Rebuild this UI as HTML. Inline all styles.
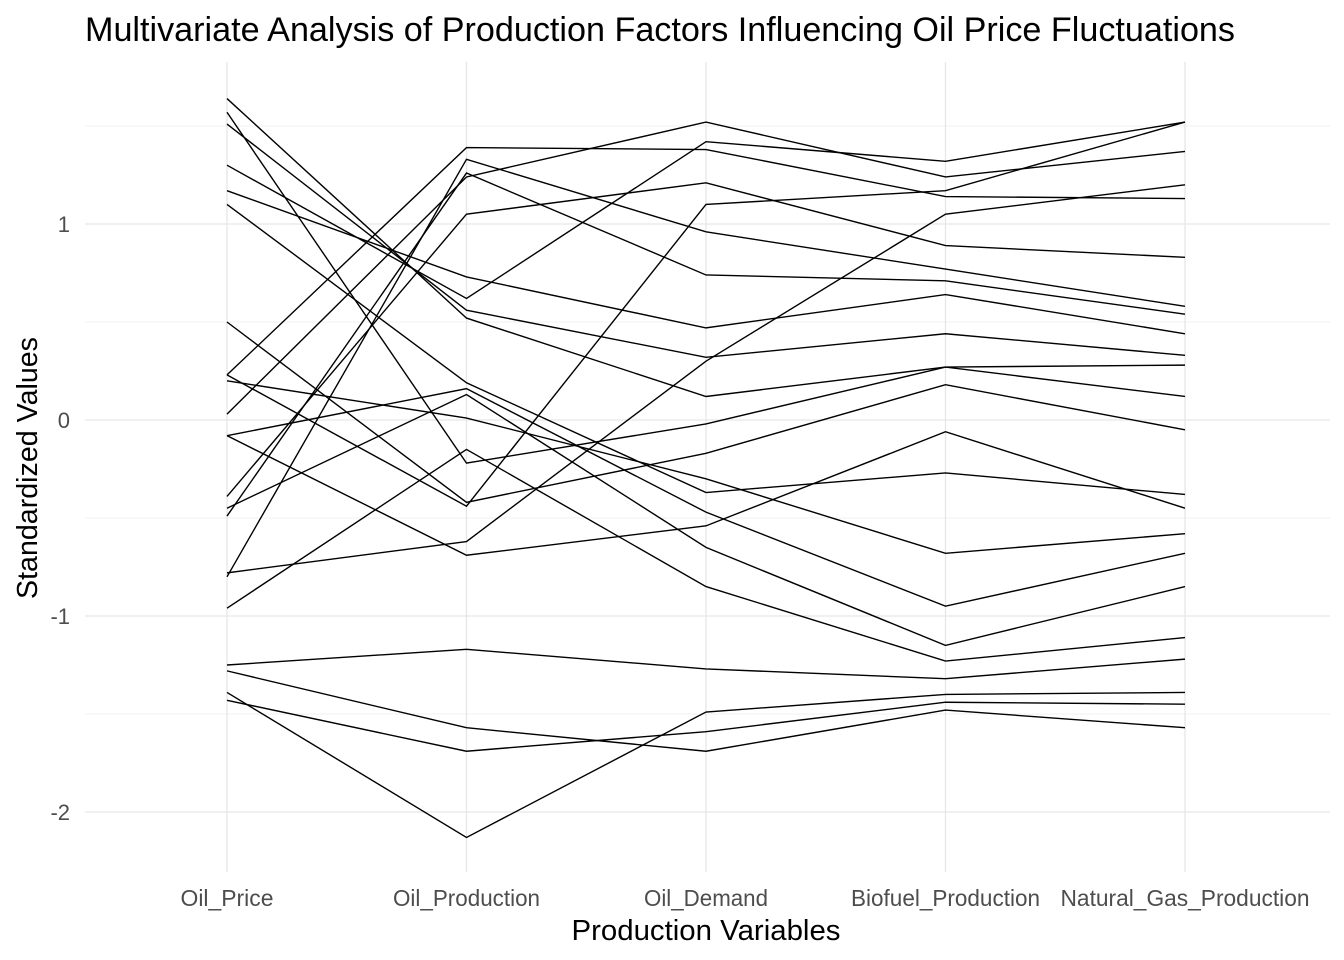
<!DOCTYPE html>
<html><head><meta charset="utf-8"><style>
body{margin:0;background:#fff;}
svg{display:block;font-family:"Liberation Sans",sans-serif;}
</style></head><body>
<svg id="chart" width="1344" height="960">
<text x="85" y="41" font-size="34" textLength="1150" lengthAdjust="spacingAndGlyphs" fill="#000">Multivariate Analysis of Production Factors Influencing Oil Price Fluctuations</text>
<g id="grid"></g>
<g id="lines"></g>
<g id="axes"></g>
<text x="706" y="940" font-size="29" text-anchor="middle" textLength="269" lengthAdjust="spacingAndGlyphs" fill="#000">Production Variables</text>
<text transform="translate(37,468) rotate(-90)" font-size="28.5" text-anchor="middle" textLength="262" lengthAdjust="spacingAndGlyphs" fill="#000">Standardized Values</text>
</svg>
<script>
const categories = ["Oil_Price","Oil_Production","Oil_Demand","Biofuel_Production","Natural_Gas_Production"];
const yTicks = [-2,-1,0,1];
const yMinor = [-1.5,-0.5,0.5,1.5];
const s01 = [1.64,0.52,0.12,0.27,0.28];
const s02 = [1.51,0.56,0.32,0.44,0.33];
const s03 = [1.57,-0.22,-0.02,0.27,0.12];
const s04 = [1.30,0.62,1.42,1.32,1.52];
const s05 = [1.17,0.73,0.47,0.64,0.44];
const s06 = [1.10,0.19,-0.37,-0.27,-0.38];
const s07 = [0.50,-0.42,-0.17,0.18,-0.05];
const s08 = [0.23,1.39,1.38,1.14,1.13];
const s09 = [0.23,-0.44,1.10,1.17,1.52];
const s10 = [0.20,0.01,-0.30,-0.68,-0.58];
const s11 = [0.03,1.24,1.52,1.24,1.37];
const s12 = [-0.08,0.16,-0.47,-0.95,-0.68];
const s13 = [-0.08,-0.69,-0.54,-0.06,-0.45];
const s14 = [-0.39,1.05,1.21,0.89,0.83];
const s15 = [-0.49,1.26,0.74,0.71,0.54];
const s16 = [-0.78,-0.62,0.30,1.05,1.20];
const s17 = [-0.80,1.33,0.96,0.77,0.58];
const s18 = [-0.96,-0.15,-0.85,-1.23,-1.11];
const s19 = [-1.25,-1.17,-1.27,-1.32,-1.22];
const s20 = [-1.28,-1.57,-1.69,-1.48,-1.57];
const s21 = [-1.39,-2.13,-1.49,-1.40,-1.39];
const s22 = [-1.43,-1.69,-1.59,-1.44,-1.45];
const s23 = [-0.45,0.13,-0.65,-1.15,-0.85];
const series = [s01,s02,s03,s04,s05,s06,s07,s08,s09,s10,s11,s12,s13,s14,s15,s16,s17,s18,s19,s20,s21,s22,s23];
const labelWidths = [93,147,124,189,249];

const NS="http://www.w3.org/2000/svg";
function xPos(i){return 227 + i*239.5;}
function yPos(v){return 420 - v*196;}
const L=85,R=1330,T=62,B=872;
const grid=document.getElementById('grid');
function line(g,x1,y1,x2,y2,c,w){const l=document.createElementNS(NS,'line');l.setAttribute('x1',x1);l.setAttribute('y1',y1);l.setAttribute('x2',x2);l.setAttribute('y2',y2);l.setAttribute('stroke',c);l.setAttribute('stroke-width',w);g.appendChild(l);return l;}
yMinor.forEach(v=>{const l=line(grid,L,yPos(v),R,yPos(v),'#f0f0f0',1);

});
yTicks.forEach(v=>{const l=line(grid,L,yPos(v),R,yPos(v),'#e6e6e6',1.3);

});
categories.forEach((c,i)=>{const l=line(grid,xPos(i),T,xPos(i),B,'#e6e6e6',1.3);

});
const lg=document.getElementById('lines');
series.forEach((s,k)=>{const p=document.createElementNS(NS,'polyline');
p.setAttribute('points',s.map((v,i)=>xPos(i)+','+yPos(v)).join(' '));
p.setAttribute('fill','none');p.setAttribute('stroke','#000');p.setAttribute('stroke-width','1.4');


lg.appendChild(p);});
const ax=document.getElementById('axes');
yTicks.forEach(v=>{const t=document.createElementNS(NS,'text');t.setAttribute('x',70);t.setAttribute('y',yPos(v)+8);t.setAttribute('text-anchor','end');t.setAttribute('font-size','22');t.setAttribute('fill','#4d4d4d');t.textContent=v;


ax.appendChild(t);});
categories.forEach((c,i)=>{const t=document.createElementNS(NS,'text');t.setAttribute('x',xPos(i));t.setAttribute('y',906);t.setAttribute('text-anchor','middle');t.setAttribute('font-size','23');t.setAttribute('textLength',labelWidths[i]);t.setAttribute('lengthAdjust','spacingAndGlyphs');t.setAttribute('fill','#4d4d4d');t.textContent=c;


ax.appendChild(t);});
</script>
</body></html>
